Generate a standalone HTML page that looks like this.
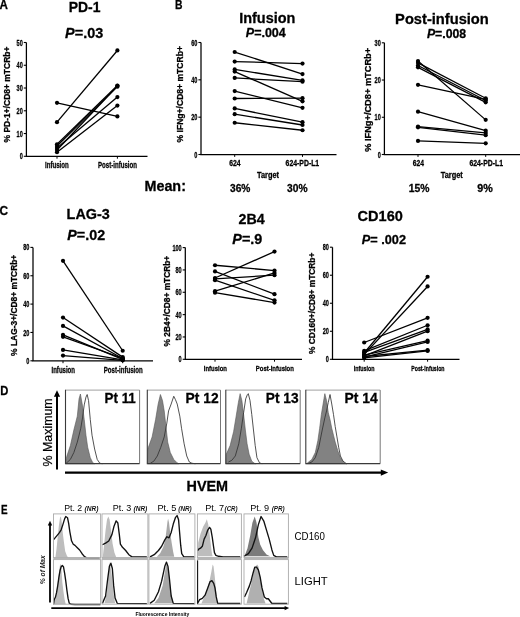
<!DOCTYPE html><html><head><meta charset="utf-8"><style>html,body{margin:0;padding:0;background:#fff;width:520px;height:617px;overflow:hidden}svg{display:block;font-family:"Liberation Sans",sans-serif;filter:grayscale(1)}text[font-weight=bold]{stroke:#000;stroke-width:0.28px;paint-order:stroke}</style></head><body>
<svg width="520" height="617" viewBox="0 0 520 617">
<rect width="520" height="617" fill="#fff"/>
<text x="-0.40" y="8.70" font-size="12.3" font-weight="bold" font-style="normal" textLength="8.40" lengthAdjust="spacingAndGlyphs" fill="#000" >A</text>
<text x="175.10" y="8.70" font-size="12.5" font-weight="bold" font-style="normal" textLength="7.50" lengthAdjust="spacingAndGlyphs" fill="#000" >B</text>
<text x="-0.50" y="214.70" font-size="12.5" font-weight="bold" font-style="normal" textLength="8.60" lengthAdjust="spacingAndGlyphs" fill="#000" >C</text>
<text x="0.30" y="395.00" font-size="12.5" font-weight="bold" font-style="normal" textLength="8.10" lengthAdjust="spacingAndGlyphs" fill="#000" >D</text>
<text x="0.90" y="513.50" font-size="12.5" font-weight="bold" font-style="normal" textLength="6.60" lengthAdjust="spacingAndGlyphs" fill="#000" >E</text>
<text x="68.80" y="12.00" font-size="14.2" font-weight="bold" font-style="normal" textLength="31.70" lengthAdjust="spacingAndGlyphs" fill="#000" >PD-1</text>
<text x="65.10" y="38.30" font-size="15" font-weight="bold" font-style="normal" textLength="38.10" lengthAdjust="spacingAndGlyphs" fill="#000" ><tspan font-style="italic">P</tspan>=.03</text>
<text transform="translate(9.60,142.50) rotate(-90)" x="0" y="0" font-size="8.8" font-weight="bold" font-style="normal" textLength="95.90" lengthAdjust="spacingAndGlyphs" fill="#000" >% PD-1+/CD8+ mTCRb+</text>
<path d="M26.40,42.50 V156.30 H147.50" fill="none" stroke="#000" stroke-width="1.25"/>
<path d="M23.80,156.30 H26.40" stroke="#000" stroke-width="1.1"/>
<text x="19.70" y="159.35" font-size="8.8" font-weight="bold" font-style="normal" textLength="3.10" lengthAdjust="spacingAndGlyphs" fill="#000" >0</text>
<path d="M23.80,133.54 H26.40" stroke="#000" stroke-width="1.1"/>
<text x="16.60" y="136.59" font-size="8.8" font-weight="bold" font-style="normal" textLength="6.20" lengthAdjust="spacingAndGlyphs" fill="#000" >10</text>
<path d="M23.80,110.78 H26.40" stroke="#000" stroke-width="1.1"/>
<text x="16.60" y="113.83" font-size="8.8" font-weight="bold" font-style="normal" textLength="6.20" lengthAdjust="spacingAndGlyphs" fill="#000" >20</text>
<path d="M23.80,88.02 H26.40" stroke="#000" stroke-width="1.1"/>
<text x="16.60" y="91.07" font-size="8.8" font-weight="bold" font-style="normal" textLength="6.20" lengthAdjust="spacingAndGlyphs" fill="#000" >30</text>
<path d="M23.80,65.26 H26.40" stroke="#000" stroke-width="1.1"/>
<text x="16.60" y="68.31" font-size="8.8" font-weight="bold" font-style="normal" textLength="6.20" lengthAdjust="spacingAndGlyphs" fill="#000" >40</text>
<path d="M23.80,42.50 H26.40" stroke="#000" stroke-width="1.1"/>
<text x="16.60" y="45.55" font-size="8.8" font-weight="bold" font-style="normal" textLength="6.20" lengthAdjust="spacingAndGlyphs" fill="#000" >50</text>
<path d="M57.00,156.30 V158.70" stroke="#000" stroke-width="1"/>
<path d="M117.40,156.30 V158.70" stroke="#000" stroke-width="1"/>
<path d="M57.00,102.81 L117.40,116.47" stroke="#000" stroke-width="1.3"/>
<path d="M57.00,122.16 L117.40,50.47" stroke="#000" stroke-width="1.3"/>
<path d="M57.00,144.24 L117.40,85.52" stroke="#000" stroke-width="1.3"/>
<path d="M57.00,146.06 L117.40,86.65" stroke="#000" stroke-width="1.3"/>
<path d="M57.00,147.88 L117.40,97.12" stroke="#000" stroke-width="1.3"/>
<path d="M57.00,149.93 L117.40,85.97" stroke="#000" stroke-width="1.3"/>
<path d="M57.00,152.20 L117.40,105.55" stroke="#000" stroke-width="1.3"/>
<circle cx="57.00" cy="102.81" r="2.1"/>
<circle cx="117.40" cy="116.47" r="2.1"/>
<circle cx="57.00" cy="122.16" r="2.1"/>
<circle cx="117.40" cy="50.47" r="2.1"/>
<circle cx="57.00" cy="144.24" r="2.1"/>
<circle cx="117.40" cy="85.52" r="2.1"/>
<circle cx="57.00" cy="146.06" r="2.1"/>
<circle cx="117.40" cy="86.65" r="2.1"/>
<circle cx="57.00" cy="147.88" r="2.1"/>
<circle cx="117.40" cy="97.12" r="2.1"/>
<circle cx="57.00" cy="149.93" r="2.1"/>
<circle cx="117.40" cy="85.97" r="2.1"/>
<circle cx="57.00" cy="152.20" r="2.1"/>
<circle cx="117.40" cy="105.55" r="2.1"/>
<text x="45.00" y="168.00" font-size="8.3" font-weight="bold" font-style="normal" textLength="23.80" lengthAdjust="spacingAndGlyphs" fill="#000" >Infusion</text>
<text x="98.00" y="168.00" font-size="8.3" font-weight="bold" font-style="normal" textLength="39.00" lengthAdjust="spacingAndGlyphs" fill="#000" >Post-infusion</text>
<text x="239.20" y="23.20" font-size="14.6" font-weight="bold" font-style="normal" textLength="56.20" lengthAdjust="spacingAndGlyphs" fill="#000" >Infusion</text>
<text x="245.80" y="36.60" font-size="12" font-weight="bold" font-style="normal" textLength="40.00" lengthAdjust="spacingAndGlyphs" fill="#000" ><tspan font-style="italic">P</tspan>=.004</text>
<text transform="translate(182.60,142.40) rotate(-90)" x="0" y="0" font-size="8.8" font-weight="bold" font-style="normal" textLength="96.30" lengthAdjust="spacingAndGlyphs" fill="#000" >% IFNg+/CD8+ mTCRb+</text>
<path d="M201.00,42.50 V154.50 H336.50" fill="none" stroke="#000" stroke-width="1.25"/>
<path d="M198.40,154.50 H201.00" stroke="#000" stroke-width="1.1"/>
<text x="194.30" y="157.55" font-size="8.8" font-weight="bold" font-style="normal" textLength="3.10" lengthAdjust="spacingAndGlyphs" fill="#000" >0</text>
<path d="M198.40,117.17 H201.00" stroke="#000" stroke-width="1.1"/>
<text x="191.20" y="120.22" font-size="8.8" font-weight="bold" font-style="normal" textLength="6.20" lengthAdjust="spacingAndGlyphs" fill="#000" >20</text>
<path d="M198.40,79.83 H201.00" stroke="#000" stroke-width="1.1"/>
<text x="191.20" y="82.88" font-size="8.8" font-weight="bold" font-style="normal" textLength="6.20" lengthAdjust="spacingAndGlyphs" fill="#000" >40</text>
<path d="M198.40,42.50 H201.00" stroke="#000" stroke-width="1.1"/>
<text x="191.20" y="45.55" font-size="8.8" font-weight="bold" font-style="normal" textLength="6.20" lengthAdjust="spacingAndGlyphs" fill="#000" >60</text>
<path d="M234.70,154.50 V156.90" stroke="#000" stroke-width="1"/>
<path d="M302.50,154.50 V156.90" stroke="#000" stroke-width="1"/>
<path d="M234.70,52.02 L302.50,74.05" stroke="#000" stroke-width="1.3"/>
<path d="M234.70,61.54 L302.50,63.59" stroke="#000" stroke-width="1.3"/>
<path d="M234.70,69.38 L302.50,80.39" stroke="#000" stroke-width="1.3"/>
<path d="M234.70,71.62 L302.50,101.30" stroke="#000" stroke-width="1.3"/>
<path d="M234.70,77.97 L302.50,81.70" stroke="#000" stroke-width="1.3"/>
<path d="M234.70,91.03 L302.50,107.83" stroke="#000" stroke-width="1.3"/>
<path d="M234.70,98.50 L302.50,98.13" stroke="#000" stroke-width="1.3"/>
<path d="M234.70,108.39 L302.50,122.21" stroke="#000" stroke-width="1.3"/>
<path d="M234.70,114.18 L302.50,125.01" stroke="#000" stroke-width="1.3"/>
<path d="M234.70,122.77 L302.50,130.23" stroke="#000" stroke-width="1.3"/>
<circle cx="234.70" cy="52.02" r="2.1"/>
<circle cx="302.50" cy="74.05" r="2.1"/>
<circle cx="234.70" cy="61.54" r="2.1"/>
<circle cx="302.50" cy="63.59" r="2.1"/>
<circle cx="234.70" cy="69.38" r="2.1"/>
<circle cx="302.50" cy="80.39" r="2.1"/>
<circle cx="234.70" cy="71.62" r="2.1"/>
<circle cx="302.50" cy="101.30" r="2.1"/>
<circle cx="234.70" cy="77.97" r="2.1"/>
<circle cx="302.50" cy="81.70" r="2.1"/>
<circle cx="234.70" cy="91.03" r="2.1"/>
<circle cx="302.50" cy="107.83" r="2.1"/>
<circle cx="234.70" cy="98.50" r="2.1"/>
<circle cx="302.50" cy="98.13" r="2.1"/>
<circle cx="234.70" cy="108.39" r="2.1"/>
<circle cx="302.50" cy="122.21" r="2.1"/>
<circle cx="234.70" cy="114.18" r="2.1"/>
<circle cx="302.50" cy="125.01" r="2.1"/>
<circle cx="234.70" cy="122.77" r="2.1"/>
<circle cx="302.50" cy="130.23" r="2.1"/>
<text x="229.30" y="166.20" font-size="8.2" font-weight="bold" font-style="normal" textLength="11.30" lengthAdjust="spacingAndGlyphs" fill="#000" >624</text>
<text x="285.60" y="166.20" font-size="8.2" font-weight="bold" font-style="normal" textLength="33.60" lengthAdjust="spacingAndGlyphs" fill="#000" >624-PD-L1</text>
<text x="257.00" y="178.20" font-size="8.8" font-weight="bold" font-style="normal" textLength="22.00" lengthAdjust="spacingAndGlyphs" fill="#000" >Target</text>
<text x="395.10" y="23.80" font-size="14.6" font-weight="bold" font-style="normal" textLength="93.70" lengthAdjust="spacingAndGlyphs" fill="#000" >Post-infusion</text>
<text x="426.90" y="37.90" font-size="12" font-weight="bold" font-style="normal" textLength="39.30" lengthAdjust="spacingAndGlyphs" fill="#000" ><tspan font-style="italic">P</tspan>=.008</text>
<text transform="translate(370.80,151.80) rotate(-90)" x="0" y="0" font-size="8.8" font-weight="bold" font-style="normal" textLength="103.90" lengthAdjust="spacingAndGlyphs" fill="#000" >% IFNg+/CD8+ mTCRb+</text>
<path d="M384.40,42.80 V154.50 H521.00" fill="none" stroke="#000" stroke-width="1.25"/>
<path d="M381.80,154.50 H384.40" stroke="#000" stroke-width="1.1"/>
<text x="377.70" y="157.55" font-size="8.8" font-weight="bold" font-style="normal" textLength="3.10" lengthAdjust="spacingAndGlyphs" fill="#000" >0</text>
<path d="M381.80,117.27 H384.40" stroke="#000" stroke-width="1.1"/>
<text x="374.60" y="120.32" font-size="8.8" font-weight="bold" font-style="normal" textLength="6.20" lengthAdjust="spacingAndGlyphs" fill="#000" >10</text>
<path d="M381.80,80.03 H384.40" stroke="#000" stroke-width="1.1"/>
<text x="374.60" y="83.08" font-size="8.8" font-weight="bold" font-style="normal" textLength="6.20" lengthAdjust="spacingAndGlyphs" fill="#000" >20</text>
<path d="M381.80,42.80 H384.40" stroke="#000" stroke-width="1.1"/>
<text x="374.60" y="45.85" font-size="8.8" font-weight="bold" font-style="normal" textLength="6.20" lengthAdjust="spacingAndGlyphs" fill="#000" >30</text>
<path d="M418.00,154.50 V156.90" stroke="#000" stroke-width="1"/>
<path d="M485.70,154.50 V156.90" stroke="#000" stroke-width="1"/>
<path d="M418.00,61.04 L485.70,119.87" stroke="#000" stroke-width="1.3"/>
<path d="M418.00,62.91 L485.70,98.28" stroke="#000" stroke-width="1.3"/>
<path d="M418.00,65.51 L485.70,100.51" stroke="#000" stroke-width="1.3"/>
<path d="M418.00,67.37 L485.70,102.37" stroke="#000" stroke-width="1.3"/>
<path d="M418.00,84.87 L485.70,99.39" stroke="#000" stroke-width="1.3"/>
<path d="M418.00,111.68 L485.70,130.67" stroke="#000" stroke-width="1.3"/>
<path d="M418.00,126.58 L485.70,132.90" stroke="#000" stroke-width="1.3"/>
<path d="M418.00,127.32 L485.70,135.14" stroke="#000" stroke-width="1.3"/>
<path d="M418.00,140.91 L485.70,143.33" stroke="#000" stroke-width="1.3"/>
<circle cx="418.00" cy="61.04" r="2.1"/>
<circle cx="485.70" cy="119.87" r="2.1"/>
<circle cx="418.00" cy="62.91" r="2.1"/>
<circle cx="485.70" cy="98.28" r="2.1"/>
<circle cx="418.00" cy="65.51" r="2.1"/>
<circle cx="485.70" cy="100.51" r="2.1"/>
<circle cx="418.00" cy="67.37" r="2.1"/>
<circle cx="485.70" cy="102.37" r="2.1"/>
<circle cx="418.00" cy="84.87" r="2.1"/>
<circle cx="485.70" cy="99.39" r="2.1"/>
<circle cx="418.00" cy="111.68" r="2.1"/>
<circle cx="485.70" cy="130.67" r="2.1"/>
<circle cx="418.00" cy="126.58" r="2.1"/>
<circle cx="485.70" cy="132.90" r="2.1"/>
<circle cx="418.00" cy="127.32" r="2.1"/>
<circle cx="485.70" cy="135.14" r="2.1"/>
<circle cx="418.00" cy="140.91" r="2.1"/>
<circle cx="485.70" cy="143.33" r="2.1"/>
<text x="412.70" y="166.20" font-size="8.2" font-weight="bold" font-style="normal" textLength="11.20" lengthAdjust="spacingAndGlyphs" fill="#000" >624</text>
<text x="469.40" y="166.20" font-size="8.2" font-weight="bold" font-style="normal" textLength="33.60" lengthAdjust="spacingAndGlyphs" fill="#000" >624-PD-L1</text>
<text x="440.80" y="178.20" font-size="8.8" font-weight="bold" font-style="normal" textLength="22.00" lengthAdjust="spacingAndGlyphs" fill="#000" >Target</text>
<text x="144.50" y="191.20" font-size="14.4" font-weight="bold" font-style="normal" textLength="41.40" lengthAdjust="spacingAndGlyphs" fill="#000" >Mean:</text>
<text x="230.00" y="192.20" font-size="10.6" font-weight="bold" font-style="normal" textLength="20.40" lengthAdjust="spacingAndGlyphs" fill="#000" >36%</text>
<text x="287.00" y="192.20" font-size="10.6" font-weight="bold" font-style="normal" textLength="20.50" lengthAdjust="spacingAndGlyphs" fill="#000" >30%</text>
<text x="408.80" y="192.40" font-size="10.6" font-weight="bold" font-style="normal" textLength="20.70" lengthAdjust="spacingAndGlyphs" fill="#000" >15%</text>
<text x="477.30" y="192.40" font-size="10.6" font-weight="bold" font-style="normal" textLength="15.50" lengthAdjust="spacingAndGlyphs" fill="#000" >9%</text>
<text x="66.60" y="218.60" font-size="14.6" font-weight="bold" font-style="normal" textLength="43.20" lengthAdjust="spacingAndGlyphs" fill="#000" >LAG-3</text>
<text x="67.30" y="240.10" font-size="14.6" font-weight="bold" font-style="normal" textLength="37.80" lengthAdjust="spacingAndGlyphs" fill="#000" ><tspan font-style="italic">P</tspan>=.02</text>
<text transform="translate(17.30,355.90) rotate(-90)" x="0" y="0" font-size="8.8" font-weight="bold" font-style="normal" textLength="101.20" lengthAdjust="spacingAndGlyphs" fill="#000" >% LAG-3+/CD8+ mTCRb+</text>
<path d="M33.00,247.40 V360.80 H153.00" fill="none" stroke="#000" stroke-width="1.25"/>
<path d="M30.40,360.80 H33.00" stroke="#000" stroke-width="1.1"/>
<text x="26.30" y="363.85" font-size="8.8" font-weight="bold" font-style="normal" textLength="3.10" lengthAdjust="spacingAndGlyphs" fill="#000" >0</text>
<path d="M30.40,332.45 H33.00" stroke="#000" stroke-width="1.1"/>
<text x="23.20" y="335.50" font-size="8.8" font-weight="bold" font-style="normal" textLength="6.20" lengthAdjust="spacingAndGlyphs" fill="#000" >20</text>
<path d="M30.40,304.10 H33.00" stroke="#000" stroke-width="1.1"/>
<text x="23.20" y="307.15" font-size="8.8" font-weight="bold" font-style="normal" textLength="6.20" lengthAdjust="spacingAndGlyphs" fill="#000" >40</text>
<path d="M30.40,275.75 H33.00" stroke="#000" stroke-width="1.1"/>
<text x="23.20" y="278.80" font-size="8.8" font-weight="bold" font-style="normal" textLength="6.20" lengthAdjust="spacingAndGlyphs" fill="#000" >60</text>
<path d="M30.40,247.40 H33.00" stroke="#000" stroke-width="1.1"/>
<text x="23.20" y="250.45" font-size="8.8" font-weight="bold" font-style="normal" textLength="6.20" lengthAdjust="spacingAndGlyphs" fill="#000" >80</text>
<path d="M63.00,360.80 V363.20" stroke="#000" stroke-width="1"/>
<path d="M122.70,360.80 V363.20" stroke="#000" stroke-width="1"/>
<path d="M63.00,260.87 L122.70,350.74" stroke="#000" stroke-width="1.3"/>
<path d="M63.00,317.57 L122.70,357.11" stroke="#000" stroke-width="1.3"/>
<path d="M63.00,325.93 L122.70,358.53" stroke="#000" stroke-width="1.3"/>
<path d="M63.00,334.86 L122.70,359.38" stroke="#000" stroke-width="1.3"/>
<path d="M63.00,336.84 L122.70,358.25" stroke="#000" stroke-width="1.3"/>
<path d="M63.00,349.89 L122.70,359.95" stroke="#000" stroke-width="1.3"/>
<path d="M63.00,355.56 L122.70,360.37" stroke="#000" stroke-width="1.3"/>
<circle cx="63.00" cy="260.87" r="2.1"/>
<circle cx="122.70" cy="350.74" r="2.1"/>
<circle cx="63.00" cy="317.57" r="2.1"/>
<circle cx="122.70" cy="357.11" r="2.1"/>
<circle cx="63.00" cy="325.93" r="2.1"/>
<circle cx="122.70" cy="358.53" r="2.1"/>
<circle cx="63.00" cy="334.86" r="2.1"/>
<circle cx="122.70" cy="359.38" r="2.1"/>
<circle cx="63.00" cy="336.84" r="2.1"/>
<circle cx="122.70" cy="358.25" r="2.1"/>
<circle cx="63.00" cy="349.89" r="2.1"/>
<circle cx="122.70" cy="359.95" r="2.1"/>
<circle cx="63.00" cy="355.56" r="2.1"/>
<circle cx="122.70" cy="360.37" r="2.1"/>
<text x="51.50" y="372.60" font-size="8.3" font-weight="bold" font-style="normal" textLength="23.50" lengthAdjust="spacingAndGlyphs" fill="#000" >Infusion</text>
<text x="103.80" y="372.60" font-size="8.3" font-weight="bold" font-style="normal" textLength="38.90" lengthAdjust="spacingAndGlyphs" fill="#000" >Post-infusion</text>
<text x="238.50" y="223.70" font-size="14.2" font-weight="bold" font-style="normal" textLength="26.10" lengthAdjust="spacingAndGlyphs" fill="#000" >2B4</text>
<text x="232.30" y="244.20" font-size="14.6" font-weight="bold" font-style="normal" textLength="30.00" lengthAdjust="spacingAndGlyphs" fill="#000" ><tspan font-style="italic">P</tspan>=.9</text>
<text transform="translate(170.00,346.50) rotate(-90)" x="0" y="0" font-size="8.8" font-weight="bold" font-style="normal" textLength="90.70" lengthAdjust="spacingAndGlyphs" fill="#000" >% 2B4+/CD8+ mTCRb+</text>
<path d="M185.30,247.60 V359.30 H302.00" fill="none" stroke="#000" stroke-width="1.25"/>
<path d="M182.70,359.30 H185.30" stroke="#000" stroke-width="1.1"/>
<text x="178.60" y="362.35" font-size="8.8" font-weight="bold" font-style="normal" textLength="3.10" lengthAdjust="spacingAndGlyphs" fill="#000" >0</text>
<path d="M182.70,336.96 H185.30" stroke="#000" stroke-width="1.1"/>
<text x="175.50" y="340.01" font-size="8.8" font-weight="bold" font-style="normal" textLength="6.20" lengthAdjust="spacingAndGlyphs" fill="#000" >20</text>
<path d="M182.70,314.62 H185.30" stroke="#000" stroke-width="1.1"/>
<text x="175.50" y="317.67" font-size="8.8" font-weight="bold" font-style="normal" textLength="6.20" lengthAdjust="spacingAndGlyphs" fill="#000" >40</text>
<path d="M182.70,292.28 H185.30" stroke="#000" stroke-width="1.1"/>
<text x="175.50" y="295.33" font-size="8.8" font-weight="bold" font-style="normal" textLength="6.20" lengthAdjust="spacingAndGlyphs" fill="#000" >60</text>
<path d="M182.70,269.94 H185.30" stroke="#000" stroke-width="1.1"/>
<text x="175.50" y="272.99" font-size="8.8" font-weight="bold" font-style="normal" textLength="6.20" lengthAdjust="spacingAndGlyphs" fill="#000" >80</text>
<path d="M182.70,247.60 H185.30" stroke="#000" stroke-width="1.1"/>
<text x="172.40" y="250.65" font-size="8.8" font-weight="bold" font-style="normal" textLength="9.30" lengthAdjust="spacingAndGlyphs" fill="#000" >100</text>
<path d="M215.00,359.30 V361.70" stroke="#000" stroke-width="1"/>
<path d="M274.50,359.30 V361.70" stroke="#000" stroke-width="1"/>
<path d="M215.00,265.25 L274.50,270.61" stroke="#000" stroke-width="1.3"/>
<path d="M215.00,271.39 L274.50,294.18" stroke="#000" stroke-width="1.3"/>
<path d="M215.00,277.98 L274.50,251.62" stroke="#000" stroke-width="1.3"/>
<path d="M215.00,278.88 L274.50,275.19" stroke="#000" stroke-width="1.3"/>
<path d="M215.00,280.22 L274.50,300.32" stroke="#000" stroke-width="1.3"/>
<path d="M215.00,291.16 L274.50,272.96" stroke="#000" stroke-width="1.3"/>
<path d="M215.00,292.73 L274.50,302.56" stroke="#000" stroke-width="1.3"/>
<circle cx="215.00" cy="265.25" r="2.1"/>
<circle cx="274.50" cy="270.61" r="2.1"/>
<circle cx="215.00" cy="271.39" r="2.1"/>
<circle cx="274.50" cy="294.18" r="2.1"/>
<circle cx="215.00" cy="277.98" r="2.1"/>
<circle cx="274.50" cy="251.62" r="2.1"/>
<circle cx="215.00" cy="278.88" r="2.1"/>
<circle cx="274.50" cy="275.19" r="2.1"/>
<circle cx="215.00" cy="280.22" r="2.1"/>
<circle cx="274.50" cy="300.32" r="2.1"/>
<circle cx="215.00" cy="291.16" r="2.1"/>
<circle cx="274.50" cy="272.96" r="2.1"/>
<circle cx="215.00" cy="292.73" r="2.1"/>
<circle cx="274.50" cy="302.56" r="2.1"/>
<text x="203.80" y="370.80" font-size="8.0" font-weight="bold" font-style="normal" textLength="23.10" lengthAdjust="spacingAndGlyphs" fill="#000" >Infusion</text>
<text x="255.80" y="370.80" font-size="8.0" font-weight="bold" font-style="normal" textLength="38.10" lengthAdjust="spacingAndGlyphs" fill="#000" >Post-infusion</text>
<text x="357.60" y="221.20" font-size="14.8" font-weight="bold" font-style="normal" textLength="45.20" lengthAdjust="spacingAndGlyphs" fill="#000" >CD160</text>
<text x="361.80" y="243.70" font-size="12.5" font-weight="bold" font-style="normal" textLength="44.20" lengthAdjust="spacingAndGlyphs" fill="#000" ><tspan font-style="italic">P</tspan>= .002</text>
<text transform="translate(315.20,353.90) rotate(-90)" x="0" y="0" font-size="8.8" font-weight="bold" font-style="normal" textLength="101.20" lengthAdjust="spacingAndGlyphs" fill="#000" >% CD160+/CD8+ mTCRb+</text>
<path d="M332.50,247.20 V359.30 H459.50" fill="none" stroke="#000" stroke-width="1.25"/>
<path d="M329.90,359.30 H332.50" stroke="#000" stroke-width="1.1"/>
<text x="325.80" y="362.35" font-size="8.8" font-weight="bold" font-style="normal" textLength="3.10" lengthAdjust="spacingAndGlyphs" fill="#000" >0</text>
<path d="M329.90,331.27 H332.50" stroke="#000" stroke-width="1.1"/>
<text x="322.70" y="334.32" font-size="8.8" font-weight="bold" font-style="normal" textLength="6.20" lengthAdjust="spacingAndGlyphs" fill="#000" >20</text>
<path d="M329.90,303.25 H332.50" stroke="#000" stroke-width="1.1"/>
<text x="322.70" y="306.30" font-size="8.8" font-weight="bold" font-style="normal" textLength="6.20" lengthAdjust="spacingAndGlyphs" fill="#000" >40</text>
<path d="M329.90,275.23 H332.50" stroke="#000" stroke-width="1.1"/>
<text x="322.70" y="278.28" font-size="8.8" font-weight="bold" font-style="normal" textLength="6.20" lengthAdjust="spacingAndGlyphs" fill="#000" >60</text>
<path d="M329.90,247.20 H332.50" stroke="#000" stroke-width="1.1"/>
<text x="322.70" y="250.25" font-size="8.8" font-weight="bold" font-style="normal" textLength="6.20" lengthAdjust="spacingAndGlyphs" fill="#000" >80</text>
<path d="M364.20,359.30 V361.70" stroke="#000" stroke-width="1"/>
<path d="M427.60,359.30 V361.70" stroke="#000" stroke-width="1"/>
<path d="M364.20,342.49 L427.60,317.82" stroke="#000" stroke-width="1.3"/>
<path d="M364.20,352.99 L427.60,276.77" stroke="#000" stroke-width="1.3"/>
<path d="M364.20,354.40 L427.60,286.44" stroke="#000" stroke-width="1.3"/>
<path d="M364.20,350.89 L427.60,325.25" stroke="#000" stroke-width="1.3"/>
<path d="M364.20,352.29 L427.60,329.45" stroke="#000" stroke-width="1.3"/>
<path d="M364.20,355.80 L427.60,331.13" stroke="#000" stroke-width="1.3"/>
<path d="M364.20,355.10 L427.60,340.66" stroke="#000" stroke-width="1.3"/>
<path d="M364.20,357.20 L427.60,341.92" stroke="#000" stroke-width="1.3"/>
<path d="M364.20,356.50 L427.60,350.19" stroke="#000" stroke-width="1.3"/>
<path d="M364.20,357.90 L427.60,350.89" stroke="#000" stroke-width="1.3"/>
<circle cx="364.20" cy="342.49" r="2.1"/>
<circle cx="427.60" cy="317.82" r="2.1"/>
<circle cx="364.20" cy="352.99" r="2.1"/>
<circle cx="427.60" cy="276.77" r="2.1"/>
<circle cx="364.20" cy="354.40" r="2.1"/>
<circle cx="427.60" cy="286.44" r="2.1"/>
<circle cx="364.20" cy="350.89" r="2.1"/>
<circle cx="427.60" cy="325.25" r="2.1"/>
<circle cx="364.20" cy="352.29" r="2.1"/>
<circle cx="427.60" cy="329.45" r="2.1"/>
<circle cx="364.20" cy="355.80" r="2.1"/>
<circle cx="427.60" cy="331.13" r="2.1"/>
<circle cx="364.20" cy="355.10" r="2.1"/>
<circle cx="427.60" cy="340.66" r="2.1"/>
<circle cx="364.20" cy="357.20" r="2.1"/>
<circle cx="427.60" cy="341.92" r="2.1"/>
<circle cx="364.20" cy="356.50" r="2.1"/>
<circle cx="427.60" cy="350.19" r="2.1"/>
<circle cx="364.20" cy="357.90" r="2.1"/>
<circle cx="427.60" cy="350.89" r="2.1"/>
<text x="353.80" y="371.20" font-size="7.6" font-weight="bold" font-style="normal" textLength="20.70" lengthAdjust="spacingAndGlyphs" fill="#000" >Infusion</text>
<text x="411.30" y="371.20" font-size="7.6" font-weight="bold" font-style="normal" textLength="33.20" lengthAdjust="spacingAndGlyphs" fill="#000" >Post-infusion</text>
<path d="M65.71,463.75 L65.71,461.15 L66.92,455.96 L70.38,445.57 L73.85,430.00 L77.31,416.15 L79.04,398.85 L80.42,394.00 L82.50,405.77 L84.23,419.61 L85.96,435.19 L87.69,447.31 L90.29,457.69 L92.88,462.88 L94.61,463.75 Z" fill="#828282" stroke="#555" stroke-width="0.6"/>
<path d="M66.06,463.40 L70.38,459.42 L73.85,452.50 L77.31,442.11 L80.77,428.27 L82.50,417.88 L84.23,404.90 L85.96,397.11 L87.17,394.52 L88.56,400.58 L90.29,419.61 L92.02,435.19 L94.61,449.04 L97.21,459.42 L99.81,463.23 L102.40,463.75" fill="none" stroke="#333" stroke-width="0.85"/>
<path d="M65.50,390.1 H139.60" stroke="#a0a0a0" stroke-width="1"/>
<path d="M139.60,390.1 V463.6" stroke="#777" stroke-width="1"/>
<path d="M65.50,389.8 V463.6 H139.60" fill="none" stroke="#3a3a3a" stroke-width="1.1"/>
<path d="M147.44,463.75 L147.79,449.04 L152.11,436.92 L155.58,419.61 L158.17,404.04 L160.42,394.52 L162.50,400.58 L164.23,410.96 L165.96,426.54 L167.69,442.11 L170.29,452.50 L173.75,459.42 L177.21,462.88 L178.94,463.75 Z" fill="#828282" stroke="#555" stroke-width="0.6"/>
<path d="M150.38,463.23 L153.85,461.15 L157.31,455.96 L160.77,447.31 L164.23,436.92 L166.83,423.08 L168.56,410.96 L171.15,404.04 L173.75,396.25 L175.48,399.71 L177.21,404.04 L179.81,416.15 L181.54,428.27 L184.13,443.84 L186.73,455.96 L189.33,462.02 L191.92,463.23 L195.38,463.75" fill="none" stroke="#333" stroke-width="0.85"/>
<path d="M147.30,390.1 H220.50" stroke="#a0a0a0" stroke-width="1"/>
<path d="M220.50,390.1 V463.6" stroke="#777" stroke-width="1"/>
<path d="M147.30,389.8 V463.6 H220.50" fill="none" stroke="#3a3a3a" stroke-width="1.1"/>
<path d="M225.96,463.75 L226.31,454.23 L230.11,445.57 L233.58,431.73 L236.17,416.15 L238.42,402.31 L240.15,393.65 L241.88,400.58 L243.61,414.42 L245.35,430.00 L247.08,443.84 L249.15,454.23 L251.75,461.15 L254.34,463.23 L256.08,463.75 Z" fill="#828282" stroke="#555" stroke-width="0.6"/>
<path d="M228.38,462.02 L231.85,460.29 L235.31,455.96 L238.77,443.84 L241.36,428.27 L243.61,412.69 L245.69,398.85 L247.42,394.52 L248.29,393.65 L250.02,400.58 L251.75,414.42 L253.48,430.00 L255.21,445.57 L256.94,457.69 L259.54,462.88 L262.13,463.75" fill="none" stroke="#333" stroke-width="0.85"/>
<path d="M225.80,390.1 H300.20" stroke="#a0a0a0" stroke-width="1"/>
<path d="M300.20,390.1 V463.6" stroke="#777" stroke-width="1"/>
<path d="M225.80,389.8 V463.6 H300.20" fill="none" stroke="#3a3a3a" stroke-width="1.1"/>
<path d="M306.13,463.75 L307.52,462.88 L311.85,459.42 L315.31,452.50 L317.90,440.38 L319.63,428.27 L321.36,414.42 L323.10,404.04 L323.96,398.85 L324.83,393.65 L326.56,400.58 L328.29,412.69 L330.02,419.61 L331.75,428.27 L333.48,435.19 L335.21,442.11 L337.81,450.77 L340.40,457.69 L343.86,462.88 L346.46,463.75 Z" fill="#828282" stroke="#555" stroke-width="0.6"/>
<path d="M308.38,463.23 L311.85,462.02 L315.31,457.69 L318.77,447.31 L322.23,430.00 L324.83,417.88 L326.56,410.96 L328.29,402.31 L330.02,394.52 L331.75,404.04 L333.48,414.42 L335.21,426.54 L336.94,436.92 L338.67,447.31 L340.40,455.96 L343.00,461.15 L346.46,463.75" fill="none" stroke="#333" stroke-width="0.85"/>
<path d="M305.80,390.1 H380.20" stroke="#a0a0a0" stroke-width="1"/>
<path d="M380.20,390.1 V463.6" stroke="#777" stroke-width="1"/>
<path d="M305.80,389.8 V463.6 H380.20" fill="none" stroke="#3a3a3a" stroke-width="1.1"/>
<text x="104.60" y="403.40" font-size="14.6" font-weight="bold" font-style="normal" textLength="31.20" lengthAdjust="spacingAndGlyphs" fill="#000" >Pt 11</text>
<text x="185.60" y="403.00" font-size="14.6" font-weight="bold" font-style="normal" textLength="33.00" lengthAdjust="spacingAndGlyphs" fill="#000" >Pt 12</text>
<text x="265.80" y="403.00" font-size="14.6" font-weight="bold" font-style="normal" textLength="32.80" lengthAdjust="spacingAndGlyphs" fill="#000" >Pt 13</text>
<text x="344.60" y="403.00" font-size="14.6" font-weight="bold" font-style="normal" textLength="33.20" lengthAdjust="spacingAndGlyphs" fill="#000" >Pt 14</text>
<path d="M57,469.6 V396" stroke="#000" stroke-width="2"/>
<path d="M57,390.2 L60.1,396.8 L53.9,396.8 Z" fill="#000"/>
<path d="M65,472.6 H381.5" stroke="#000" stroke-width="2.1"/>
<path d="M388.2,472.6 L380.8,469.5 L380.8,475.7 Z" fill="#000"/>
<text transform="translate(52.00,466.50) rotate(-90)" x="0" y="0" font-size="12.6" font-weight="normal" font-style="normal" textLength="68.20" lengthAdjust="spacingAndGlyphs" fill="#000" style="stroke:#000;stroke-width:0.2px">% Maximum</text>
<text x="186.50" y="490.60" font-size="15.2" font-weight="bold" font-style="normal" textLength="41.60" lengthAdjust="spacingAndGlyphs" fill="#000" >HVEM</text>
<path d="M55.38,557.50 L56.54,548.84 L57.69,537.31 L58.85,525.77 L60.00,517.69 L60.92,516.54 L61.73,522.31 L62.88,533.85 L64.04,543.08 L65.19,551.15 L66.92,555.77 L68.08,557.50 Z" fill="#bdbdbd" stroke="none"/>
<path d="M53.65,539.61 L56.54,536.15 L59.42,532.69 L61.15,529.81 L62.88,524.61 L64.61,518.85 L65.77,516.54 L67.50,517.69 L68.65,523.46 L69.81,531.54 L71.54,540.77 L73.27,544.23 L75.00,545.38 L77.31,547.69 L79.61,550.00 L81.92,553.46 L84.23,556.34 L86.54,557.84 L91.15,558.07 L99.23,558.07" fill="none" stroke="#111" stroke-width="1.35" stroke-linejoin="round"/>
<path d="M54.23,604.23 L55.38,598.46 L56.54,591.54 L57.69,583.46 L58.85,573.08 L60.00,565.00 L60.58,563.85 L61.15,566.15 L61.73,573.08 L62.31,582.31 L63.46,591.54 L64.61,599.61 L65.77,604.23 Z" fill="#bdbdbd" stroke="none"/>
<path d="M53.65,604.23 L54.23,599.61 L55.38,597.31 L56.54,592.69 L57.69,585.77 L58.85,577.69 L60.00,570.77 L61.15,566.73 L62.31,565.58 L63.46,566.73 L64.61,573.08 L65.77,581.15 L66.92,590.38 L68.08,598.46 L69.23,603.07 L70.96,604.23 L75.00,604.46 L100.38,604.46" fill="none" stroke="#111" stroke-width="1.35" stroke-linejoin="round"/>
<path d="M102.76,557.23 L104.05,545.24 L105.54,530.47 L107.02,519.39 L108.31,516.61 L109.60,519.39 L111.08,530.47 L112.56,543.38 L114.40,552.62 L116.24,557.23 Z" fill="#bdbdbd" stroke="none"/>
<path d="M102.40,544.77 L105.58,543.08 L108.75,540.96 L111.92,534.62 L114.04,526.16 L116.16,520.87 L117.85,522.98 L119.33,534.62 L120.39,544.14 L122.50,547.31 L125.67,550.48 L128.85,554.71 L132.02,556.83 L146.83,557.04" fill="none" stroke="#111" stroke-width="1.35" stroke-linejoin="round"/>
<path d="M156.84,556.66 L160.20,553.15 L163.25,547.06 L165.07,540.96 L166.29,531.82 L167.52,521.14 L168.11,518.86 L169.04,522.66 L170.10,531.82 L171.62,542.49 L173.15,551.63 L174.23,556.66 Z" fill="#a8a8a8" stroke="none"/>
<path d="M150.00,556.83 L154.23,554.71 L158.47,550.48 L161.64,546.25 L164.81,539.91 L166.93,536.73 L169.04,537.79 L171.16,532.50 L173.27,524.04 L175.39,517.69 L177.08,515.58 L178.56,519.81 L179.62,532.50 L180.68,545.19 L181.74,553.66 L183.85,556.83 L194.43,557.04" fill="none" stroke="#111" stroke-width="1.35" stroke-linejoin="round"/>
<path d="M104.52,603.37 L106.64,593.85 L108.12,576.93 L109.81,562.12 L111.50,572.70 L113.62,593.85 L115.10,603.37 Z" fill="#bdbdbd" stroke="none"/>
<path d="M102.40,603.37 L105.58,595.97 L107.69,579.04 L109.39,566.35 L110.87,563.18 L112.35,568.47 L113.62,585.39 L115.10,598.08 L117.21,603.37 L146.83,603.58" fill="none" stroke="#111" stroke-width="1.35" stroke-linejoin="round"/>
<path d="M154.23,603.37 L158.47,598.08 L162.70,585.39 L165.87,566.35 L166.93,563.18 L169.04,574.81 L171.16,593.85 L173.27,603.37 Z" fill="#a8a8a8" stroke="none"/>
<path d="M150.00,603.37 L154.23,600.20 L158.47,591.74 L161.64,581.16 L164.81,566.35 L166.50,562.12 L167.98,566.35 L169.47,579.04 L171.16,595.97 L173.27,603.37 L194.43,603.58" fill="none" stroke="#111" stroke-width="1.35" stroke-linejoin="round"/>
<path d="M197.81,556.29 L198.17,542.73 L200.52,533.69 L203.23,526.46 L205.40,522.85 L206.85,519.23 L208.29,524.65 L209.56,533.69 L210.82,544.54 L211.91,553.58 L212.63,556.29 Z" fill="#bdbdbd" stroke="none"/>
<path d="M197.45,550.86 L198.71,549.06 L200.52,548.15 L202.33,546.35 L204.13,539.11 L205.94,535.50 L207.75,530.08 L209.56,527.37 L210.82,529.17 L212.27,537.31 L213.53,546.35 L214.44,552.67 L215.88,555.38 L218.60,556.29 L223.11,556.83 L240.29,556.83" fill="none" stroke="#111" stroke-width="1.35" stroke-linejoin="round"/>
<path d="M244.45,556.29 L247.52,548.15 L250.23,535.50 L252.40,522.85 L254.75,516.52 L256.56,522.85 L258.36,537.31 L260.17,544.54 L262.88,549.96 L266.50,554.48 L270.11,556.29 Z" fill="#7c7c7c" stroke="none"/>
<path d="M243.90,556.29 L248.42,553.58 L252.04,548.15 L255.65,537.31 L258.36,524.65 L261.08,516.52 L263.79,521.04 L266.50,530.08 L269.21,539.11 L271.92,549.96 L273.73,555.38 L276.44,556.83 L287.29,556.83" fill="none" stroke="#111" stroke-width="1.35" stroke-linejoin="round"/>
<path d="M201.42,603.47 L204.13,596.96 L206.85,589.73 L209.56,580.69 L211.37,571.65 L212.63,564.42 L213.53,566.23 L214.62,575.27 L215.88,587.92 L216.79,598.77 L217.69,603.47 Z" fill="#bdbdbd" stroke="none"/>
<path d="M197.45,603.47 L199.62,599.67 L202.33,598.41 L205.04,595.15 L207.75,587.92 L210.10,581.60 L211.91,580.69 L213.72,583.40 L214.98,587.92 L216.25,596.96 L217.69,603.47 L220.40,603.47 L240.29,603.47" fill="none" stroke="#111" stroke-width="1.35" stroke-linejoin="round"/>
<path d="M246.61,603.47 L249.33,591.54 L251.13,584.31 L252.94,575.27 L254.75,568.04 L257.10,564.42 L258.36,566.23 L260.17,577.08 L261.98,589.73 L263.79,598.77 L265.60,603.47 Z" fill="#b0b0b0" stroke="none"/>
<path d="M244.45,596.96 L246.61,592.44 L249.33,586.11 L251.13,580.69 L252.94,573.46 L254.75,567.13 L256.56,567.13 L258.36,569.85 L260.17,577.08 L261.98,587.92 L264.33,596.96 L266.50,598.77 L268.31,598.77 L271.92,603.47 L275.54,603.47 L287.29,603.47" fill="none" stroke="#111" stroke-width="1.35" stroke-linejoin="round"/>
<rect x="53.50" y="513.90" width="47.10" height="44.10" fill="none" stroke="#aaa" stroke-width="0.9"/>
<rect x="53.50" y="559.60" width="47.10" height="44.60" fill="none" stroke="#aaa" stroke-width="0.9"/>
<path d="M53.50,558.00 H100.60" stroke="#aaa" stroke-width="1.4"/>
<rect x="102.00" y="513.90" width="45.90" height="44.10" fill="none" stroke="#aaa" stroke-width="0.9"/>
<rect x="102.00" y="559.60" width="45.90" height="44.60" fill="none" stroke="#aaa" stroke-width="0.9"/>
<path d="M102.00,558.00 H147.90" stroke="#aaa" stroke-width="1.4"/>
<rect x="148.90" y="513.90" width="46.00" height="44.10" fill="none" stroke="#aaa" stroke-width="0.9"/>
<rect x="148.90" y="559.60" width="46.00" height="44.60" fill="none" stroke="#aaa" stroke-width="0.9"/>
<path d="M148.90,558.00 H194.90" stroke="#aaa" stroke-width="1.4"/>
<rect x="197.40" y="513.90" width="44.00" height="44.10" fill="none" stroke="#aaa" stroke-width="0.9"/>
<rect x="197.40" y="559.60" width="44.00" height="44.60" fill="none" stroke="#aaa" stroke-width="0.9"/>
<path d="M197.40,558.00 H241.40" stroke="#aaa" stroke-width="1.4"/>
<rect x="244.00" y="513.90" width="44.40" height="44.10" fill="none" stroke="#aaa" stroke-width="0.9"/>
<rect x="244.00" y="559.60" width="44.40" height="44.60" fill="none" stroke="#aaa" stroke-width="0.9"/>
<path d="M244.00,558.00 H288.40" stroke="#aaa" stroke-width="1.4"/>
<path d="M197.6,560.5 V603.8" stroke="#111" stroke-width="1.1"/>
<text x="64.20" y="510.80" font-size="8.6" font-weight="normal" font-style="normal" textLength="18.00" lengthAdjust="spacingAndGlyphs" fill="#000" >Pt. 2</text>
<text x="84.50" y="510.90" font-size="6.3" font-weight="bold" font-style="italic" textLength="13.90" lengthAdjust="spacingAndGlyphs" fill="#111" style="stroke:none">(NR)</text>
<text x="112.70" y="510.80" font-size="8.6" font-weight="normal" font-style="normal" textLength="18.50" lengthAdjust="spacingAndGlyphs" fill="#000" >Pt. 3</text>
<text x="133.50" y="510.90" font-size="6.3" font-weight="bold" font-style="italic" textLength="13.80" lengthAdjust="spacingAndGlyphs" fill="#111" style="stroke:none">(NR)</text>
<text x="157.50" y="510.80" font-size="8.6" font-weight="normal" font-style="normal" textLength="18.90" lengthAdjust="spacingAndGlyphs" fill="#000" >Pt. 5</text>
<text x="178.30" y="510.90" font-size="6.3" font-weight="bold" font-style="italic" textLength="13.40" lengthAdjust="spacingAndGlyphs" fill="#111" style="stroke:none">(NR)</text>
<text x="205.20" y="510.80" font-size="8.6" font-weight="normal" font-style="normal" textLength="18.80" lengthAdjust="spacingAndGlyphs" fill="#000" >Pt. 7</text>
<text x="224.60" y="510.90" font-size="6.3" font-weight="bold" font-style="italic" textLength="12.90" lengthAdjust="spacingAndGlyphs" fill="#111" style="stroke:none">(CR)</text>
<text x="250.20" y="510.80" font-size="8.6" font-weight="normal" font-style="normal" textLength="18.80" lengthAdjust="spacingAndGlyphs" fill="#000" >Pt. 9</text>
<text x="271.70" y="510.90" font-size="6.3" font-weight="bold" font-style="italic" textLength="12.90" lengthAdjust="spacingAndGlyphs" fill="#111" style="stroke:none">(PR)</text>
<text x="294.60" y="540.00" font-size="10.4" font-weight="normal" font-style="normal" textLength="30.30" lengthAdjust="spacingAndGlyphs" fill="#000" >CD160</text>
<text x="294.60" y="585.40" font-size="11.6" font-weight="normal" font-style="normal" textLength="33.10" lengthAdjust="spacingAndGlyphs" fill="#000" >LIGHT</text>
<text transform="translate(45.20,584.20) rotate(-90)" x="0" y="0" font-size="7.2" font-weight="bold" font-style="italic" textLength="29.00" lengthAdjust="spacingAndGlyphs" fill="#1a1a1a" style="stroke:none">% of Max</text>
<text x="135.40" y="616.00" font-size="5.6" font-weight="bold" font-style="normal" textLength="53.80" lengthAdjust="spacingAndGlyphs" fill="#000" style="stroke:none">Fluorescence Intensity</text>
<path d="M50,602.5 V524.5" stroke="#000" stroke-width="1.8"/>
<path d="M50,520.8 L52.2,525.5 L47.8,525.5 Z" fill="#000"/>
<path d="M51.3,608.1 H285.5" stroke="#000" stroke-width="1.6"/>
<path d="M289.2,608.1 L284.6,605.9 L284.6,610.3 Z" fill="#000"/>
</svg></body></html>
